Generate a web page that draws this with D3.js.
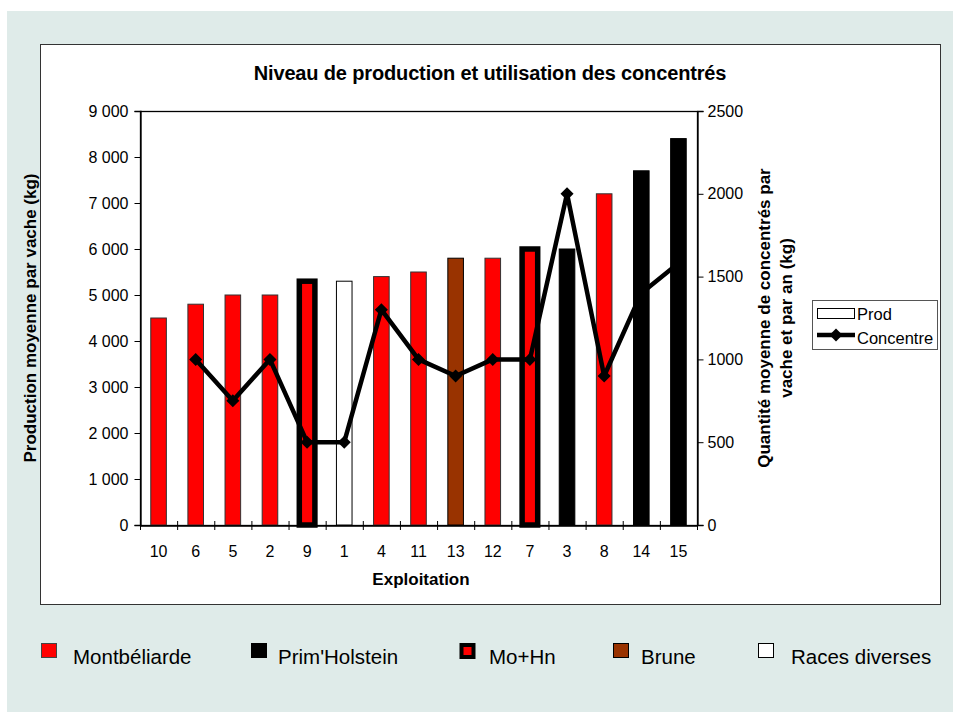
<!DOCTYPE html>
<html>
<head>
<meta charset="utf-8">
<script src="https://cdn.jsdelivr.net/npm/d3@7"></script>
<style>
  html, body { margin: 0; padding: 0; background: #ffffff; }
  svg { display: block; font-family: "Liberation Sans", Arial, sans-serif; }
</style>
</head>
<body>
<svg id="chart" width="953" height="712"></svg>
<script>
// ---- Data ----
const categories = ["10","6","5","2","9","1","4","11","13","12","7","3","8","14","15"];
const production = [4500,4800,5000,5000,5300,5300,5400,5500,5800,5800,6000,6000,7200,7700,8400];
const breed = ["Montbéliarde","Montbéliarde","Montbéliarde","Montbéliarde","Mo+Hn","Races diverses",
               "Montbéliarde","Montbéliarde","Brune","Montbéliarde","Mo+Hn","Prim'Holstein",
               "Montbéliarde","Prim'Holstein","Prim'Holstein"];
const concentre = [null,1000,750,1000,500,500,1300,1000,900,1000,1000,2000,900,1400,1580];
const leftTicks = [0,1000,2000,3000,4000,5000,6000,7000,8000,9000];
const rightTicks = [0,500,1000,1500,2000,2500];
const breedNames = ["Montbéliarde","Prim'Holstein","Mo+Hn","Brune","Races diverses"];

const title = "Niveau de production et utilisation des concentrés";
const yLeftTitle = "Production moyenne par vache (kg)";
const yRightTitle = ["Quantité moyenne de concentrés par","vache et par an (kg)"];
const xTitle = "Exploitation";

// ---- Styles ----
const breedStyle = {
  "Montbéliarde":   {fill:"#ff0000", stroke:"#333333", sw:1},
  "Prim'Holstein":  {fill:"#000000", stroke:"#000000", sw:1},
  "Mo+Hn":          {fill:"#ff0000", stroke:"#000000", sw:5.5},
  "Brune":          {fill:"#993300", stroke:"#000000", sw:1},
  "Races diverses": {fill:"#ffffff", stroke:"#000000", sw:1}
};

const svg = d3.select("#chart");

// background
svg.append("rect").attr("x",7).attr("y",11).attr("width",946).attr("height",701).attr("fill","#dfebe9");
// chart area
svg.append("rect").attr("x",40.5).attr("y",44.5).attr("width",900).attr("height",560)
  .attr("fill","#ffffff").attr("stroke","#333333").attr("stroke-width",1);

const plot = {left:140, right:697, top:111, bottom:525};

const x = d3.scaleBand().domain(categories).range([plot.left, plot.right]).paddingInner(0.58).paddingOuter(0.29);
const xb = d3.scaleBand().domain(categories).range([plot.left, plot.right]);
const yL = d3.scaleLinear().domain([0,9000]).range([plot.bottom, plot.top]);
const yR = d3.scaleLinear().domain([0,2500]).range([plot.bottom, plot.top]);

// plot frame
svg.append("rect").attr("x",plot.left+0.5).attr("y",plot.top+0.5)
  .attr("width",plot.right-plot.left).attr("height",plot.bottom-plot.top)
  .attr("fill","none").attr("stroke","#000").attr("stroke-width",1.3);

// bars
svg.append("g").selectAll("rect").data(categories).join("rect")
  .attr("x", (d)=> x(d))
  .attr("width", x.bandwidth())
  .attr("y", (d,i)=> yL(production[i]))
  .attr("height", (d,i)=> yL(0)-yL(production[i]))
  .attr("fill", (d,i)=> breedStyle[breed[i]].fill)
  .attr("stroke", (d,i)=> breedStyle[breed[i]].stroke)
  .attr("stroke-width", (d,i)=> breedStyle[breed[i]].sw);

// left axis
const fmt = (v)=> v===0 ? "0" : d3.format(",")(v).replace(/,/g," ");
const gL = svg.append("g").attr("transform",`translate(${plot.left+0.5},0)`)
  .call(d3.axisLeft(yL).tickValues(leftTicks).tickFormat(fmt).tickSize(6).tickPadding(6));
// right axis
const gR = svg.append("g").attr("transform",`translate(${plot.right+0.5},0)`)
  .call(d3.axisRight(yR).tickValues(rightTicks).tickFormat(d3.format("d")).tickSize(6).tickPadding(4));
// bottom axis
const gB = svg.append("g").attr("transform",`translate(0,${plot.bottom+0.5})`)
  .call(d3.axisBottom(xb).tickSize(0).tickPadding(20));
[gL,gR,gB].forEach(g=>{
  g.select(".domain").attr("stroke","#000").attr("stroke-width",1.3);
  g.selectAll(".tick line").attr("stroke","#000");
  g.selectAll("text").attr("font-size",16).attr("fill","#000").attr("font-family","Liberation Sans, Arial, sans-serif");
});
// category boundary ticks (cross)
const bounds = categories.map(c=> xb(c)).concat([plot.right]);
svg.append("g").selectAll("line").data(bounds).join("line")
  .attr("x1", d=> d+0.5).attr("x2", d=> d+0.5)
  .attr("y1", plot.bottom-4).attr("y2", plot.bottom+5)
  .attr("stroke","#000").attr("stroke-width",1);

// line series
const pts = categories.map((c,i)=> ({c, v: concentre[i]})).filter(p=> p.v!=null);
const line = d3.line().x(p=> xb(p.c)+xb.bandwidth()/2).y(p=> yR(p.v));
svg.append("path").datum(pts).attr("d", line)
  .attr("fill","none").attr("stroke","#000").attr("stroke-width",4.5).attr("stroke-linejoin","round");
const diamond = d3.symbol().type(d3.symbolSquare).size(85);
svg.append("g").selectAll("path").data(pts).join("path")
  .attr("d", diamond)
  .attr("transform", p=> `translate(${xb(p.c)+xb.bandwidth()/2},${yR(p.v)}) rotate(45)`)
  .attr("fill","#000");

// title
svg.append("text").attr("x",490).attr("y",80).attr("text-anchor","middle")
  .attr("font-size",20).attr("font-weight","bold").attr("letter-spacing",-0.15).text(title);
// axis titles
svg.append("text").attr("transform",`translate(36,${(plot.top+plot.bottom)/2}) rotate(-90)`)
  .attr("text-anchor","middle").attr("font-size",17).attr("font-weight","bold").text(yLeftTitle);
svg.append("text").attr("transform",`translate(770,${(plot.top+plot.bottom)/2}) rotate(-90)`)
  .attr("text-anchor","middle").attr("font-size",17).attr("font-weight","bold")
  .selectAll("tspan").data(yRightTitle).join("tspan")
  .attr("x",0).attr("dy",(d,i)=> i===0 ? 0 : 22).text(d=>d);
svg.append("text").attr("x",421).attr("y",585).attr("text-anchor","middle")
  .attr("font-size",17).attr("font-weight","bold").text(xTitle);

// inner legend
const lg = svg.append("g");
lg.append("rect").attr("x",812.5).attr("y",300.5).attr("width",125).attr("height",49)
  .attr("fill","#fff").attr("stroke","#555").attr("stroke-width",1);
lg.append("rect").attr("x",817.5).attr("y",308.5).attr("width",37).attr("height",10)
  .attr("fill","#fff").attr("stroke","#000").attr("stroke-width",1);
lg.append("text").attr("x",857).attr("y",320).attr("font-size",16.5).text("Prod");
lg.append("line").attr("x1",817).attr("x2",855).attr("y1",335).attr("y2",335)
  .attr("stroke","#000").attr("stroke-width",4.5);
lg.append("path").attr("d",diamond).attr("transform","translate(836,335) rotate(45)").attr("fill","#000");
lg.append("text").attr("x",857).attr("y",344).attr("font-size",16.5).text("Concentre");

// bottom breed legend
const legX = [41, 251, 459, 613, 758];
const legTX = [73, 278, 489, 641, 791];
const bl = svg.append("g").selectAll("g").data(breedNames).join("g");
bl.append("rect")
  .attr("x",(d,i)=> legX[i]+0.5).attr("y",643.5)
  .attr("width",(d)=> d==="Mo+Hn" ? 12 : 15).attr("height",(d)=> d==="Mo+Hn" ? 12 : 14)
  .attr("transform",(d)=> d==="Mo+Hn" ? "translate(2,1.5)" : null)
  .attr("fill",d=> breedStyle[d].fill)
  .attr("stroke",d=> d==="Montbéliarde" ? "#444" : "#000")
  .attr("stroke-width",d=> d==="Mo+Hn" ? 4 : 1);
bl.append("text").attr("x",(d,i)=> legTX[i]).attr("y",664).attr("font-size",20.5).text(d=>d);
</script>
</body>
</html>
